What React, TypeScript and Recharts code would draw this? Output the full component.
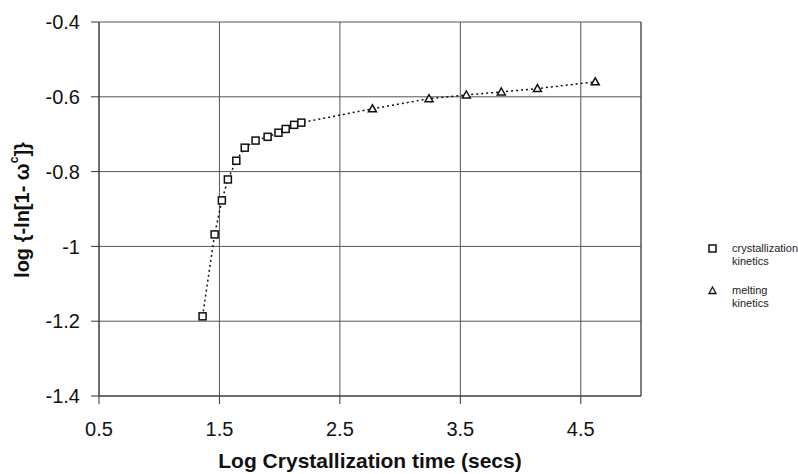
import React from 'react';
import {
  ComposedChart,
  Line,
  Scatter,
  XAxis,
  YAxis,
  CartesianGrid,
  ReferenceLine,
} from 'recharts';

const crystX = [1.36, 1.46, 1.52, 1.57, 1.64, 1.71, 1.8, 1.9, 1.99, 2.05, 2.12, 2.18];
const crystY = [-1.187, -0.968, -0.877, -0.821, -0.771, -0.736, -0.717, -0.707, -0.696, -0.686, -0.675, -0.669];
const meltX = [2.77, 3.24, 3.55, 3.84, 4.14, 4.62];
const meltY = [-0.632, -0.605, -0.595, -0.587, -0.578, -0.56];
const xTicks = [0.5, 1.5, 2.5, 3.5, 4.5];
const yTicks = [-1.4, -1.2, -1, -0.8, -0.6, -0.4];

const crystData = crystX.map((x, i) => ({ x, y: crystY[i] }));
const meltData = meltX.map((x, i) => ({ x, y: meltY[i] }));
const lineData = [...crystData, ...meltData];

const FONT = '"Liberation Sans", Arial, sans-serif';
const GRID = '#555';

const SquareDot = (props: any) => {
  const { cx, cy } = props;
  return <rect x={cx - 3.5} y={cy - 3.5} width={7} height={7} fill="#fff" stroke="#111" strokeWidth={1.5} />;
};

const TriangleDot = (props: any) => {
  const { cx, cy } = props;
  return (
    <polygon
      points={`${cx},${cy - 4} ${cx - 4},${cy + 3} ${cx + 4},${cy + 3}`}
      fill="#fff"
      stroke="#111"
      strokeWidth={1.5}
    />
  );
};

const YLabel = () => (
  <text
    x={22}
    y={210}
    transform="rotate(-90 22 210)"
    textAnchor="middle"
    dominantBaseline="central"
    fontFamily={FONT}
    fontWeight="bold"
    fontSize={20}
    fill="#111"
  >
    log {'{'}-ln[1- ω
    <tspan dy={-8} fontSize={12}>c</tspan>
    <tspan dy={8}>]{'}'}</tspan>
  </text>
);

// legend drawn as a plain overlay so it doesn't eat plot space
const ChartLegend = () => (
  <div
    style={{
      position: 'absolute',
      left: 706,
      top: 242,
      fontFamily: FONT,
      fontSize: 11,
      color: '#222',
      lineHeight: '13px',
    }}
  >
    <div style={{ display: 'flex', alignItems: 'flex-start', marginBottom: 16 }}>
      <svg width={20} height={13}>
        <rect x={3} y={3} width={7} height={7} fill="#fff" stroke="#111" strokeWidth={1.5} />
      </svg>
      <div style={{ marginLeft: 6 }}>crystallization<br />kinetics</div>
    </div>
    <div style={{ display: 'flex', alignItems: 'flex-start' }}>
      <svg width={20} height={13}>
        <polygon points="6.5,3 3,9.5 10,9.5" fill="#fff" stroke="#111" strokeWidth={1.3} />
      </svg>
      <div style={{ marginLeft: 6 }}>melting<br />kinetics</div>
    </div>
  </div>
);

export default function App() {
  return (
    <div style={{ position: 'absolute', left: 0, top: 0, width: 798, height: 474, background: '#fff' }}>
      <ComposedChart width={798} height={474} margin={{ top: 22, right: 157, bottom: 0, left: 0 }}>
        <CartesianGrid stroke={GRID} strokeWidth={1} />
        <XAxis
          type="number"
          dataKey="x"
          domain={[0.5, 5]}
          ticks={xTicks}
          allowDataOverflow
          height={78}
          stroke="#333"
          tickSize={8}
          tickMargin={18}
          tick={{ fill: '#111', fontSize: 20, fontFamily: FONT }}
          label={{
            value: 'Log Crystallization time (secs)',
            position: 'insideBottom',
            offset: 6,
            fill: '#111',
            fontSize: 21,
            fontWeight: 'bold',
            fontFamily: FONT,
          }}
        />
        <YAxis
          type="number"
          dataKey="y"
          domain={[-1.4, -0.4]}
          ticks={yTicks}
          allowDataOverflow
          width={99}
          stroke="#333"
          tickSize={8}
          tickMargin={11}
          tick={{ fill: '#111', fontSize: 20, fontFamily: FONT }}
          label={<YLabel />}
        />
        <ReferenceLine x={5} stroke={GRID} strokeWidth={1} />
        <Line
          data={lineData}
          dataKey="y"
          type="linear"
          stroke="#111"
          strokeWidth={1.5}
          strokeDasharray="2 3"
          dot={false}
          activeDot={false}
          isAnimationActive={false}
          legendType="none"
        />
        <Scatter data={crystData} dataKey="y" shape={SquareDot} isAnimationActive={false} />
        <Scatter data={meltData} dataKey="y" shape={TriangleDot} isAnimationActive={false} />
      </ComposedChart>
      <ChartLegend />
    </div>
  );
}
